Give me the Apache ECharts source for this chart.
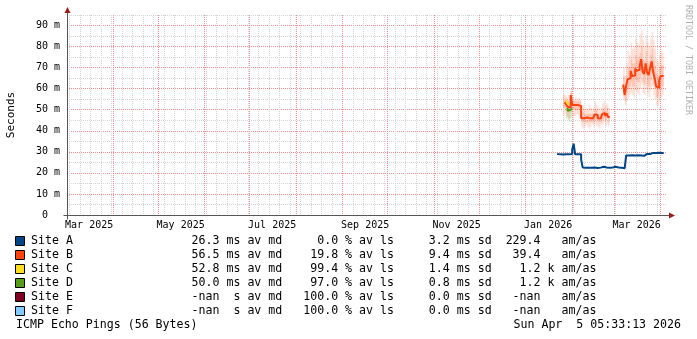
<!DOCTYPE html>
<html><head><meta charset="utf-8">
<script src="https://cdn.jsdelivr.net/npm/echarts@6/dist/echarts.min.js"></script>
<style>html,body{margin:0;padding:0;background:#fff}#c{width:697px;height:339px}</style>
</head><body><div id="c"></div>
<script>
// ---------- time range & ticks ----------
const START = Date.UTC(2025, 2, 1, 5, 33, 13);
const END = Date.UTC(2026, 3, 5, 5, 33, 13);
const DAY = 86400000;
const monthStarts = ['2025-04-01','2025-05-01','2025-06-01','2025-07-01','2025-08-01','2025-09-01',
  '2025-10-01','2025-11-01','2025-12-01','2026-01-01','2026-02-01','2026-03-01','2026-04-01'];
const monthLabels = ['Mar 2025','May 2025','Jul 2025','Sep 2025','Nov 2025','Jan 2026','Mar 2026'];
const monthLabelMonths = ['2025-03-01','2025-05-01','2025-07-01','2025-09-01','2025-11-01','2026-01-01','2026-03-01'];
const firstMonday = '2025-03-03';
const yMajor = [0,10,20,30,40,50,60,70,80,90];
const yMinor = [5,15,25,35,45,55,65,75,85,95];
const yMax = 95;

// ---------- series (ms) ----------
const siteA_start = '2026-01-22';
const siteA = [29.0,28.9,28.8,28.8,28.7,28.8,28.8,28.9,28.8,28.9,29.0,
  31.0,33.9,
  28.8,28.8,28.9,28.8,
  26.3,
  22.6,22.5,22.4,22.5,22.6,22.5,22.4,22.6,22.5,22.3,22.4,22.5,22.6,22.9,22.8,22.6,22.5,22.4,22.5,22.6,22.8,22.9,22.7,22.6,22.5,22.4,22.3,22.2,22.5,
  28.3,28.3,28.3,28.4,28.4,28.3,28.3,28.4,28.3,28.3,
  28.2,28.1,28.9,29.0,29.1,29.0,
  29.4,29.5,29.6,29.4,29.5,29.6,29.5,29.4,29.5];

const siteB_start = '2026-01-27';
const N = null;
const siteB = [53.5,53.0,52.5,51.5,51.0,57.0,52.3,52.2,52.0,52.2,52.0,51.8,46.0,46.0,45.8,46.3,46.0,45.9,46.1,46.0,46.2,47.8,47.5,46.0,45.8,46.0,47.9,48.5,47.0,48.3,46.5,
  N,N,N,N,N,N,N,N,N,
  61.9,57.0,61.5,64.5,65.0,68.5,66.0,66.2,69.6,68.5,69.0,70.8,74.0,68.0,67.0,72.0,67.5,66.5,70.0,73.0,68.0,65.0,61.0,60.5,64.0,66.0,66.0];
const siteB_lo = [47,48,47,46,46,49,47,47,47,48,47,46,42,41,42,43,42,41,42,43,42,43,42,42,41,43,43,44,42,43,42,
  N,N,N,N,N,N,N,N,N,
  55,52,54,56,57,58,57,56,59,58,57,60,62,58,57,60,58,56,59,61,57,55,52,52,54,56,57];
const siteB_hi = [58,57,56,57,55,60,56,55,56,55,56,55,50,52,50,51,50,52,51,50,51,54,52,51,50,51,53,54,52,53,51,
  N,N,N,N,N,N,N,N,N,
  70,66,72,78,76,82,79,80,84,82,81,86,88,83,80,85,82,80,84,87,83,79,74,73,76,78,77];
const siteB_lo2 = [51,51,50,49,49,54,50,50,50,50,50,49,44,44,44,44,44,44,44,44,44,45,45,44,44,44,45,46,45,46,44,
  N,N,N,N,N,N,N,N,N,
  58,54,58,60,61,63,61,61,64,63,63,65,68,63,62,66,62,61,64,67,62,60,56,56,59,61,61];
const siteB_hi2 = [56,55,55,54,53,59,54,54,54,54,54,54,48,49,48,48,48,48,48,48,48,50,50,48,48,48,50,51,49,51,49,
  N,N,N,N,N,N,N,N,N,
  66,61,66,70,70,74,72,72,76,74,75,77,80,74,73,78,73,72,76,79,74,71,67,66,70,71,71];

const siteC_start = '2026-01-28';
const siteC = [54.5,53.8,52.8];
const siteD_start = '2026-01-29';
const siteD = [51.0,49.5,50.0,50.5];
const siteD_lo = [46,45,44,46];
const siteD_hi = [52,51,51,52];

// ---------- legend ----------
const names = ['Site A','Site B','Site C','Site D','Site E','Site F'];
const colors = ['#004586','#ff420e','#ffde20','#579d1c','#7e0021','#83caff'];
const avMd = ['26.3','56.5','52.8','50.0','-nan','-nan'];
const avMdUnit = ['m','m','m','m',' ',' '];
const avLs = ['0.0','19.8','99.4','97.0','100.0','100.0'];
const sdVal = ['3.2','9.4','1.4','0.8','0.0','0.0'];
const amas = ['229.4','39.4','1.2','1.2','-nan','-nan'];
const amasUnit = [' ',' ','k','k',' ',' '];
const footerLeft = 'ICMP Echo Pings (56 Bytes)';
const footerRight = 'Sun Apr  5 05:33:13 2026';
const watermark = 'RRDTOOL / TOBI OETIKER';

const MONO = '"DejaVu Sans Mono", monospace';
const pad = (s, n) => s + ' '.repeat(Math.max(0, n - s.length));
const lpad = (s, n) => ' '.repeat(Math.max(0, n - s.length)) + s;

function lineData(start, arr) {
  const t0 = Date.parse(start);
  return arr.map((v, i) => [t0 + i * DAY, v]);
}
function bandData(start, lo, hi) {
  const t0 = Date.parse(start);
  const out = [];
  lo.forEach((l, i) => { if (l != null) out.push([t0 + i * DAY, l, hi[i]]); });
  return out;
}
function smoke(start, lo, hi, color, op) {
  return {
    type: 'custom', xAxisIndex: 0, yAxisIndex: 0, silent: true, z: 2,
    data: bandData(start, lo, hi),
    encode: {x: 0, y: [1, 2]},
    renderItem(params, api) {
      const t = api.value(0);
      const p1 = api.coord([t - DAY, api.value(2)]);
      const p2 = api.coord([t, api.value(1)]);
      return {type: 'rect', shape: {x: p1[0], y: p1[1], width: p2[0] - p1[0], height: p2[1] - p1[1]},
        style: {fill: color, opacity: op}};
    }
  };
}
function line(start, arr, color, w) {
  return {type: 'line', xAxisIndex: 0, yAxisIndex: 0, data: lineData(start, arr), step: 'start',
    symbol: 'none', showSymbol: false, connectNulls: false, z: 3, silent: true,
    lineStyle: {color, width: w}, itemStyle: {color}};
}

const monthTimes = monthStarts.map(s => Date.parse(s));
const weekTimes = [];
for (let t = Date.parse(firstMonday); t < END; t += 7 * DAY) if (monthTimes.indexOf(t) < 0) weekTimes.push(t);
const labelTimes = monthLabelMonths.map(s => Date.parse(s) + 15 * DAY);

const GRAY = '#d4d4d4', RED = '#ee9090';
const chart = echarts.init(document.getElementById('c'), null, {renderer: 'canvas', width: 697, height: 339});
const axisFont = {fontFamily: MONO, fontSize: 10, color: '#000'};
chart.setOption({
  animation: false,
  backgroundColor: '#fff',
  grid: {left: 67, top: 15, width: 600, height: 200, containLabel: false, outerBoundsMode: 'none'},
  xAxis: [
    {type: 'value', min: START, max: END, axisLine: {show: false}, axisTick: {show: false}, splitLine: {show: false},
      axisLabel: Object.assign({customValues: labelTimes, hideOverlap: false, margin: 5, showMinLabel: true, showMaxLabel: true,
        formatter: v => { const i = labelTimes.indexOf(v); return i >= 0 ? monthLabels[i] : ''; }}, axisFont)},
    {type: 'value', min: START, max: END, axisLine: {show: false}, axisLabel: {show: false},
      axisTick: {show: false, customValues: weekTimes},
      splitLine: {show: true, lineStyle: {color: GRAY, type: [1, 1], width: 1}}},
    {type: 'value', min: START, max: END, axisLine: {show: false}, axisLabel: {show: false},
      axisTick: {show: false, customValues: monthTimes},
      splitLine: {show: true, lineStyle: {color: RED, type: [1, 1], width: 1}}}
  ],
  yAxis: [
    {type: 'value', min: 0, max: yMax, axisLine: {show: false},
      axisTick: {show: false, customValues: yMajor},
      splitLine: {show: true, lineStyle: {color: RED, type: [1, 1], width: 1}},
      axisLabel: Object.assign({margin: 7, customValues: yMajor,
        formatter: v => (v === 0 ? '0  ' : v + ' m')}, axisFont),
      name: 'Seconds', nameLocation: 'middle', nameGap: 50, nameRotate: 90,
      nameTextStyle: {fontFamily: MONO, fontSize: 11, color: '#000'}},
    {type: 'value', min: 0, max: yMax, axisLine: {show: false},
      axisTick: {show: false, customValues: yMinor},
      axisLabel: {show: false},
      splitLine: {show: true, lineStyle: {color: GRAY, type: [1, 1], width: 1}}}
  ],
  series: [
    smoke(siteB_start, siteB_lo, siteB_hi, colors[1], 0.16),
    smoke(siteB_start, siteB_lo2, siteB_hi2, colors[1], 0.18),
    smoke(siteD_start, siteD_lo, siteD_hi, colors[3], 0.2),
    line(siteA_start, siteA, colors[0], 2),
    line(siteB_start, siteB, colors[1], 2),
    line(siteC_start, siteC, colors[2], 2),
    line(siteD_start, siteD, colors[3], 2)
  ]
});

// ---------- axes, arrows, legend ----------
const ox = chart.convertToPixel({xAxisIndex: 0}, START);
const rx = chart.convertToPixel({xAxisIndex: 0}, END);
const oy = chart.convertToPixel({yAxisIndex: 0}, 0);
const ty = chart.convertToPixel({yAxisIndex: 0}, yMax);
const AX = Math.round(ox) + 0.5, AY = Math.round(oy) + 0.5;
const AXIS_C = '#555', ARROW_C = '#9b1b1b';
const g = [];
g.push({type: 'line', shape: {x1: AX - 4, y1: AY, x2: rx + 4, y2: AY}, style: {stroke: AXIS_C, lineWidth: 1}, z: 10});
g.push({type: 'line', shape: {x1: AX, y1: AY + 4, x2: AX, y2: ty - 4}, style: {stroke: AXIS_C, lineWidth: 1}, z: 10});
g.push({type: 'polygon', shape: {points: [[rx + 2, AY - 3], [rx + 8, AY], [rx + 2, AY + 3]]}, style: {fill: ARROW_C}, z: 11});
g.push({type: 'polygon', shape: {points: [[AX - 3, ty - 2], [AX, ty - 8], [AX + 3, ty - 2]]}, style: {fill: ARROW_C}, z: 11});

const rowY0 = 240.7, rowStep = 14.06;
names.forEach((n, i) => {
  const s = pad(n, 22) + lpad(avMd[i], 5) + ' ' + avMdUnit[i] + 's av md' + '   ' +
    lpad(avLs[i], 5) + ' % av ls' + '   ' + lpad(sdVal[i], 5) + ' ms sd' + '  ' +
    lpad(amas[i], 5) + ' ' + amasUnit[i] + ' am/as';
  const y = rowY0 + i * rowStep;
  g.push({type: 'rect', shape: {x: 15.5, y: Math.round(y) - 4.5, width: 9, height: 9},
    style: {fill: colors[i], stroke: '#000', lineWidth: 1}});
  g.push({type: 'text', x: 31, y: y, style: {text: s, font: '11.6px ' + MONO, fill: '#000',
    textAlign: 'left', textVerticalAlign: 'middle'}});
});
g.push({type: 'text', x: 16, y: rowY0 + 6 * rowStep, style: {text: footerLeft, font: '11.6px ' + MONO, fill: '#000',
  textAlign: 'left', textVerticalAlign: 'middle'}});
g.push({type: 'text', x: 681, y: rowY0 + 6 * rowStep, style: {text: footerRight, font: '11.6px ' + MONO, fill: '#000',
  textAlign: 'right', textVerticalAlign: 'middle'}});
g.push({type: 'text', x: 688, y: 5, rotation: -Math.PI / 2, style: {text: watermark, font: '8.3px ' + MONO, fill: '#b0b0b0',
  textAlign: 'left', textVerticalAlign: 'middle'}});
chart.setOption({graphic: g});
</script></body></html>
